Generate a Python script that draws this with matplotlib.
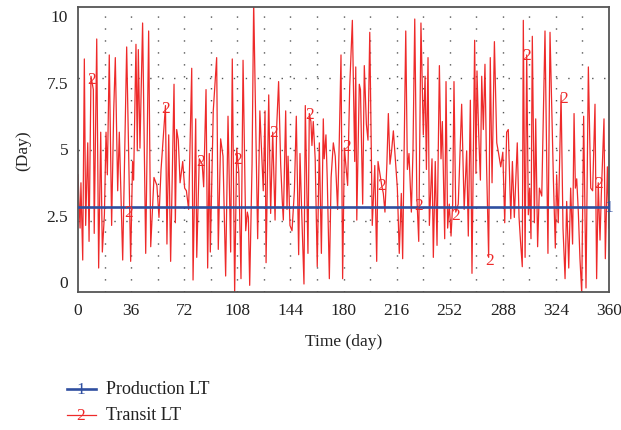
import numpy as np
import matplotlib.pyplot as plt
from matplotlib.lines import Line2D

plt.rcParams['font.family'] = ['Liberation Serif', 'DejaVu Serif']

# Transit LT (day, value)
transit_days = [0, 1.4, 2.0, 3.2, 4.3, 5.2, 6.6, 7.5, 8.8, 10.4, 11.0, 12.7, 14.0, 15.4, 16.5, 17.9,
                19.0, 19.9, 21.2, 22.8, 24.2, 25.3, 26.9, 28.0, 30.3, 33.0, 35.7, 37.0, 37.7, 39.3,
                40.2, 40.9, 42.0, 43.8, 45.9, 47.9, 49.3, 51.5, 53.5, 54.9, 56.3, 59.3, 60.3, 61.5,
                62.8, 65.1, 66.0, 66.9, 68.0, 69.2, 71.0, 72.3, 73.5, 75.0, 77.1, 78.0, 79.8, 80.5,
                82.2, 84.2, 85.2, 86.8, 87.9, 89.0, 89.7, 90.6, 91.7, 94.0, 95.1, 96.7, 98.3, 100.1,
                101.7, 103.5, 104.6, 106.2, 107.6, 109.0, 110.5, 111.9, 113.7, 114.8, 115.5, 116.4,
                118.0, 119.1, 121.8, 123.3, 125.6, 126.8, 127.5, 129.3, 130.6, 132.0, 133.6, 134.7,
                136.0, 137.4, 138.5, 139.2, 140.8, 141.7, 142.4, 143.7, 145.1, 146.7, 148.0, 149.6,
                150.5, 151.6, 153.2, 154.1, 155.9, 156.8, 157.9, 158.6, 159.5, 160.8, 162.2, 163.6,
                165.0, 166.3, 166.9, 168.1, 169.0, 170.4, 171.6, 173.1, 174.4, 176.0, 177.1, 178.3,
                179.4, 180.6, 182.8, 184.2, 186.0, 187.6, 188.3, 189.0, 190.7, 191.5, 193.0, 194.1,
                195.5, 196.6, 197.8, 199.5, 201.2, 202.5, 203.4, 205.9, 207.0, 208.1, 209.4, 210.4,
                211.5, 212.6, 213.8, 215.1, 216.5, 217.8, 219.2, 220.1, 222.2, 223.3, 224.4, 226.0,
                227.1, 228.3, 229.7, 231.0, 232.5, 234.1, 235.3, 236.2, 237.3, 238.2, 240.0, 240.9,
                242.2, 243.4, 245.0, 246.1, 247.0, 248.6, 249.5, 250.6, 251.7, 252.9, 254.0, 254.9,
                256.1, 257.8, 260.1, 261.8, 263.5, 264.6, 266.0, 267.1, 268.9, 269.8, 270.5, 271.6,
                272.8, 273.7, 274.8, 275.9, 277.0, 278.4, 279.5, 280.7, 282.3, 283.9, 285.0, 286.6,
                288.0, 289.3, 290.6, 291.7, 293.4, 294.5, 295.8, 297.8, 299.0, 300.0, 301.2, 301.9,
                303.1, 304.2, 305.3, 306.2, 307.1, 308.0, 309.4, 310.3, 311.6, 312.8, 314.4, 316.6,
                318.6, 320.0, 322.3, 323.6, 324.5, 325.6, 327.5, 328.8, 330.2, 331.3, 332.7, 334.0,
                335.3, 336.3, 337.2, 338.1, 339.2, 340.3, 341.5, 342.8, 344.4, 346.0, 347.6, 348.9,
                350.5, 351.6, 352.7, 353.9, 354.8, 356.6, 357.5, 358.9, 360.0]
transit_lt = [4.0, 2.0, 3.7, 0.8, 8.35, 2.1, 5.2, 1.5, 7.7, 7.2, 1.8, 9.1, 0.5, 5.6, 1.1, 2.5,
              5.6, 4.0, 8.5, 2.1, 6.4, 8.4, 3.4, 5.6, 0.8, 8.8, 0.75, 4.5, 3.8, 8.9,
              4.9, 8.7, 5.0, 9.7, 1.05, 9.4, 1.3, 3.9, 3.6, 2.4, 4.2, 6.6, 1.4, 5.5,
              0.75, 7.4, 2.2, 5.7, 5.3, 3.7, 4.5, 3.5, 3.4, 2.7, 8.0, 0.05, 6.1, 0.9,
              4.6, 4.4, 3.55, 7.2, 0.5, 4.8, 1.1, 3.5, 6.4, 8.4, 1.2, 5.35, 4.7, 0.2,
              6.2, 1.1, 8.35, -0.45, 5.0, 4.1, 0.1, 8.3, 1.9, 2.6, 2.4, -0.15,
              4.4, 10.5, 1.6, 6.4, 3.4, 6.4, 0.7, 7.0, 2.55, 5.6, 2.3, 5.8,
              7.5, 4.4, 3.0, 2.3, 6.4, 2.7, 4.7, 2.1, 1.9, 3.4, 6.2, 1.0,
              4.8, 2.7, -0.1, 6.6, 1.05, 6.3, 6.0, 5.1, 6.0, 4.6, 0.55, 5.2,
              1.05, 6.1, 4.6, 5.5, 3.8, 0.1, 3.9, 5.2, 4.7, 2.7, 5.2, 8.5,
              0.1, 5.0, 3.6, 7.3, 9.8, 4.5, 8.05, 2.3, 7.4, 7.2, 2.9, 8.1,
              5.9, 5.3, 9.35, 2.1, 4.35, 0.75, 4.5, 3.6, 3.3, 2.6, 4.4, 6.3,
              4.4, 4.9, 5.65, 4.6, 3.5, 1.05, 3.3, 0.85, 9.4, 4.2, 4.8, 2.6,
              4.9, 9.85, 3.2, 1.5, 9.7, 5.5, 7.7, 4.2, 8.4, 2.1, 4.6, 0.9,
              4.5, 1.35, 8.1, 4.6, 6.0, 1.6, 7.5, 2.0, 2.9, 1.7, 2.9, 7.5,
              2.6, 2.9, 6.65, 2.7, 4.9, 1.7, 6.8, 0.3, 9.05, 4.05, 7.9, 5.6,
              3.8, 7.7, 5.7, 8.15, 4.3, 0.9, 8.4, 3.7, 9.0, 5.2, 4.85, 4.3,
              4.85, 2.2, 5.6, 5.7, 2.35, 4.5, 2.4, 5.2, 2.4, 1.5, 0.55, 9.8,
              0.9, 8.5, 2.5, 3.5, 1.6, 9.2, 2.2, 6.1, 1.3, 3.5, 3.2, 9.4,
              1.05, 9.35, 3.8, 1.25, 4.0, 2.2, 7.0, 2.0, 0.1, 3.0, 0.5, 3.5,
              1.4, 6.3, 3.5, 3.85, 2.6, 0.85, -0.45, 6.2, -0.25, 8.05, 3.5, 3.4,
              6.65, 0.1, 3.7, 1.55, 3.3, 6.1, 0.85, 4.3, 2.0]

production_days = [0, 360]
production_lt = [2.8, 2.8]

# number labels drawn along the lines
label2_days = [9, 34.6, 59.7, 83, 108, 132.4, 157, 182, 205.9, 230.7, 256, 279, 304, 329, 353]
label2_vals = [7.6, 2.6, 6.5, 4.5, 4.6, 5.6, 6.3, 5.1, 3.6, 2.85, 2.5, 0.8, 8.5, 6.9, 3.7]

xticks = [0, 36, 72, 108, 144, 180, 216, 252, 288, 324, 360]
yticks = [0, 2.5, 5, 7.5, 10]

red = '#ee2a2a'
blue = '#2f4fa0'
fs = 12.5

fig = plt.figure(figsize=(6.21, 4.31), dpi=100)
ax = fig.add_axes([0.1256, 0.3202, 0.8551, 0.6612])
ax.set_xlim(0, 360)
ax.set_ylim(-0.4, 10.3)

# dotted grid
for d in range(18, 360, 18):
    ax.axvline(d, color='#555555', lw=1.0, ls=(0, (1, 7.6)), zorder=0)
y0, y1 = ax.get_ylim()
for k in (1, 2, 3):
    ax.axhline(y0 + (y1 - y0) * k / 4, color='#555555', lw=1.0, ls=(0, (1, 7.6)), zorder=0)

ax.plot(transit_days, transit_lt, color=red, lw=0.9, zorder=2)
ax.plot(production_days, production_lt, color=blue, lw=1.9, zorder=3)

for d, v in zip(label2_days, label2_vals):
    ax.text(d, v, '2', color=red, fontsize=fs, ha='center', va='center', zorder=4)
ax.text(360, production_lt[-1], '1', color=blue, fontsize=fs, ha='center', va='center',
        zorder=4, clip_on=False)

ax.set_xticks(xticks)
ax.set_xticklabels([str(t) for t in xticks])
ax.set_yticks(yticks)
ax.set_yticklabels(['0', '2.5', '5', '7.5', '10'])
ax.tick_params(length=0, labelsize=fs, pad=7, colors='#222222')
for s in ax.spines.values():
    s.set_color('#555555')
    s.set_linewidth(1.3)

ax.set_xlabel('Time (day)', fontsize=fs, labelpad=11, color='#222222')
ax.set_ylabel('(Day)', fontsize=fs, labelpad=11, color='#222222')

# legend drawn by hand below the axes
W, H = 621.0, 431.0
for row, (col, num, name) in enumerate([(blue, '1', 'Production LT'), (red, '2', 'Transit LT')]):
    yy = 1 - (390 + 26 * row) / H
    fig.add_artist(Line2D([67 / W, 96 / W], [yy, yy], color=col,
                          lw=1.9 if row == 0 else 0.9, transform=fig.transFigure))
    fig.text(81 / W, yy, num, color=col, fontsize=fs, ha='center', va='center')
    fig.text(106 / W, yy, name, color='#222222', fontsize=13, ha='left', va='center')

fig.savefig('out.png', dpi=100)
